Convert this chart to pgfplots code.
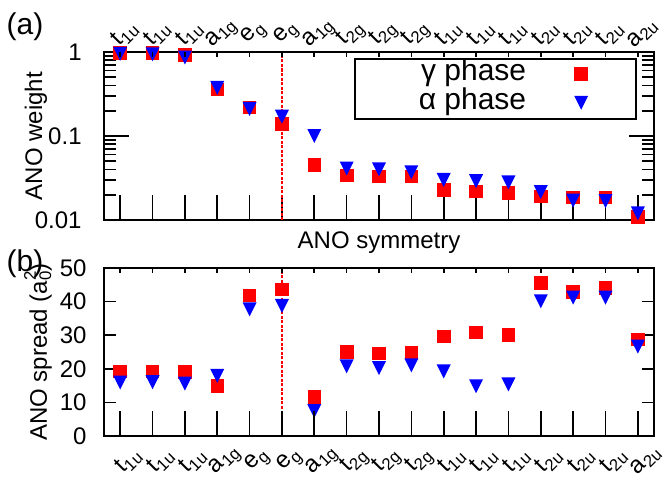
\documentclass[border=0pt]{standalone}
\usepackage{fontspec}
\setmainfont{Liberation Sans}
\newfontfamily\subfont[Scale=0.7]{Liberation Sans}
\usepackage{pgfplots}
\pgfplotsset{compat=1.18}

% gnuplot-like downward triangle, bbox centred on the point
\pgfdeclareplotmark{tridown}{%
  \pgfpathmoveto{\pgfqpoint{-\pgfplotmarksize}{\pgfplotmarksize}}%
  \pgfpathlineto{\pgfqpoint{\pgfplotmarksize}{\pgfplotmarksize}}%
  \pgfpathlineto{\pgfqpoint{0pt}{-\pgfplotmarksize}}%
  \pgfpathclose\pgfusepathqfill}

\newcommand{\lblfont}{\fontsize{12}{14}\selectfont}
% subscript from a scaled copy of the text font, no size switch
\newcommand{\sy}[2]{#1\raisebox{-0.35ex}{\subfont #2}}
\pgfplotsset{
  anoframe/.style={scale only axis,width=275pt,height=84pt,
    xmin=0.5,xmax=17.5,clip=false,
    axis line style={line width=1pt},
    tick style={black,line width=0.8pt},
    tick label style={font=\lblfont},
    /pgf/number format/assume math mode=true},
  % bare axis used only for extra x ticks / category labels
  tickframe/.style={scale only axis,width=275pt,height=84pt,
    xmin=0.5,xmax=17.5,ymin=0,ymax=1,
    axis y line=none,tick align=inside,
    x axis line style={draw=none},
    tick style={black,line width=0.8pt},
    xtick={1,...,17}},
  gam/.style={only marks,mark=square*,mark size=3.15pt,color=red},
  alp/.style={only marks,mark=tridown,mark size=3.5pt,color=blue},
  egline/.style={red,line width=1pt,dash pattern=on 1.5pt off 0.75pt,forget plot},
  symlabels/.style={xticklabels={\sy{t}{1u},\sy{t}{1u},\sy{t}{1u},\sy{a}{1g},\sy{e}{g},\sy{e}{g},\sy{a}{1g},\sy{t}{2g},\sy{t}{2g},\sy{t}{2g},\sy{t}{1u},\sy{t}{1u},\sy{t}{1u},\sy{t}{2u},\sy{t}{2u},\sy{t}{2u},\sy{a}{2u}}},
}

\begin{document}
\begin{tikzpicture}
\path[use as bounding box] (-52pt,-20.5pt) rectangle (280pt,218pt);

% ---------- (a) weights ----------
\begin{axis}[anoframe,at={(0,108pt)},
  ymode=log,ymin=0.01,ymax=1,
  ytick={0.01,0.1,1},yticklabels={0.01,0.1,1},
  minor ytick={0.02,0.03,0.04,0.05,0.06,0.07,0.08,0.09,0.2,0.3,0.4,0.5,0.6,0.7,0.8,0.9},
  major tick length=12.5pt,minor tick length=6pt,
  xtick={1,...,17},xticklabels={},xtick pos=left,
  yticklabel style={anchor=east,inner sep=0pt,xshift=-11pt},
  ylabel={ANO weight},
  every axis y label/.style={at={(rel axis cs:0,0.5)},xshift=-34pt,rotate=90,anchor=center,font=\lblfont},
  xlabel={ANO symmetry},
  every axis x label/.style={at={(rel axis cs:0.5,0)},yshift=-11.5pt,anchor=center,font=\lblfont},
  legend plot pos=right,
  legend image code/.code={\path[draw=none,fill=none] (0pt,-7.5pt) rectangle (55pt,6.5pt);
    \draw[#1] plot coordinates {(27.5pt,0pt)};},
  legend style={at={(rel axis cs:1,1)},anchor=north east,xshift=-8.5pt,yshift=-3pt,
    draw=black,line width=0.8pt,inner xsep=0pt,inner ysep=0.5pt,
    row sep=0pt,column sep=0pt,
    nodes={inner sep=0pt,text height=10.5pt,text depth=3.5pt,
      font=\fontsize{15}{16}\selectfont}},
]
\addplot[egline] coordinates {(6,0.01) (6,1)};
\addplot[gam] coordinates {
  (1,0.97) (2,0.97) (3,0.92) (4,0.36) (5,0.22) (6,0.14) (7,0.045) (8,0.034)
  (9,0.033) (10,0.033) (11,0.023) (12,0.022) (13,0.021) (14,0.019) (15,0.0185)
  (16,0.0185) (17,0.0108)};
\addlegendentry{\makebox[85.5pt][r]{γ phase}}
\addplot[alp] coordinates {
  (1,0.95) (2,0.94) (3,0.86) (4,0.375) (5,0.21) (6,0.17) (7,0.10) (8,0.041)
  (9,0.040) (10,0.037) (11,0.030) (12,0.029) (13,0.028) (14,0.0215) (15,0.017)
  (16,0.0168) (17,0.012)};
\addlegendentry{\makebox[85.5pt][r]{α phase}}
\end{axis}
% top short ticks + category labels
\begin{axis}[tickframe,at={(0,108pt)},axis x line*=top,
  major tick length=2.5pt,symlabels,
  x tick label style={font=\lblfont,xshift=2.3pt,yshift=9pt,rotate=45,anchor=center,inner sep=0pt}]
\end{axis}

% ---------- (b) spreads ----------
\begin{axis}[anoframe,at={(0,0)},
  ymin=0,ymax=50,ytick={0,10,...,50},
  major tick length=6pt,xtick=\empty,
  yticklabel style={anchor=east,inner sep=0pt,xshift=-8.5pt},
  ylabel={ANO spread (a\rlap{\raisebox{-0.35ex}{\subfont 0}}\raisebox{0.85ex}{\subfont 2})},
  every axis y label/.style={at={(rel axis cs:0,0.5)},xshift=-33pt,rotate=90,anchor=center,font=\lblfont},
]
\addplot[egline] coordinates {(6,0) (6,50)};
\addplot[gam] coordinates {
  (1,19.2) (2,19.2) (3,19.0) (4,15.0) (5,41.8) (6,43.6) (7,11.7) (8,25.1)
  (9,24.6) (10,24.7) (11,29.7) (12,30.8) (13,30.0) (14,45.5) (15,42.8)
  (16,44.0) (17,28.7)};
\addplot[alp] coordinates {
  (1,15.9) (2,16.0) (3,15.6) (4,17.9) (5,37.7) (6,38.7) (7,7.4) (8,20.7)
  (9,20.2) (10,21.0) (11,19.2) (12,14.8) (13,15.35) (14,40.1) (15,41.2)
  (16,41.2) (17,26.6)};
\end{axis}
% bottom long ticks + category labels
\begin{axis}[tickframe,at={(0,0)},axis x line*=bottom,
  major tick length=12.5pt,symlabels,
  x tick label style={font=\lblfont,xshift=4pt,yshift=-12.5pt,rotate=45,anchor=center,inner sep=0pt}]
\end{axis}
% top short ticks
\begin{axis}[tickframe,at={(0,0)},axis x line*=top,
  major tick length=2.5pt,xticklabels={}]
\end{axis}

\node[font=\fontsize{15}{17}\selectfont] at (-39.5pt,204.5pt) {(a)};
\node[font=\fontsize{15}{17}\selectfont] at (-39.5pt,86pt) {(b)};
\end{tikzpicture}
\end{document}
